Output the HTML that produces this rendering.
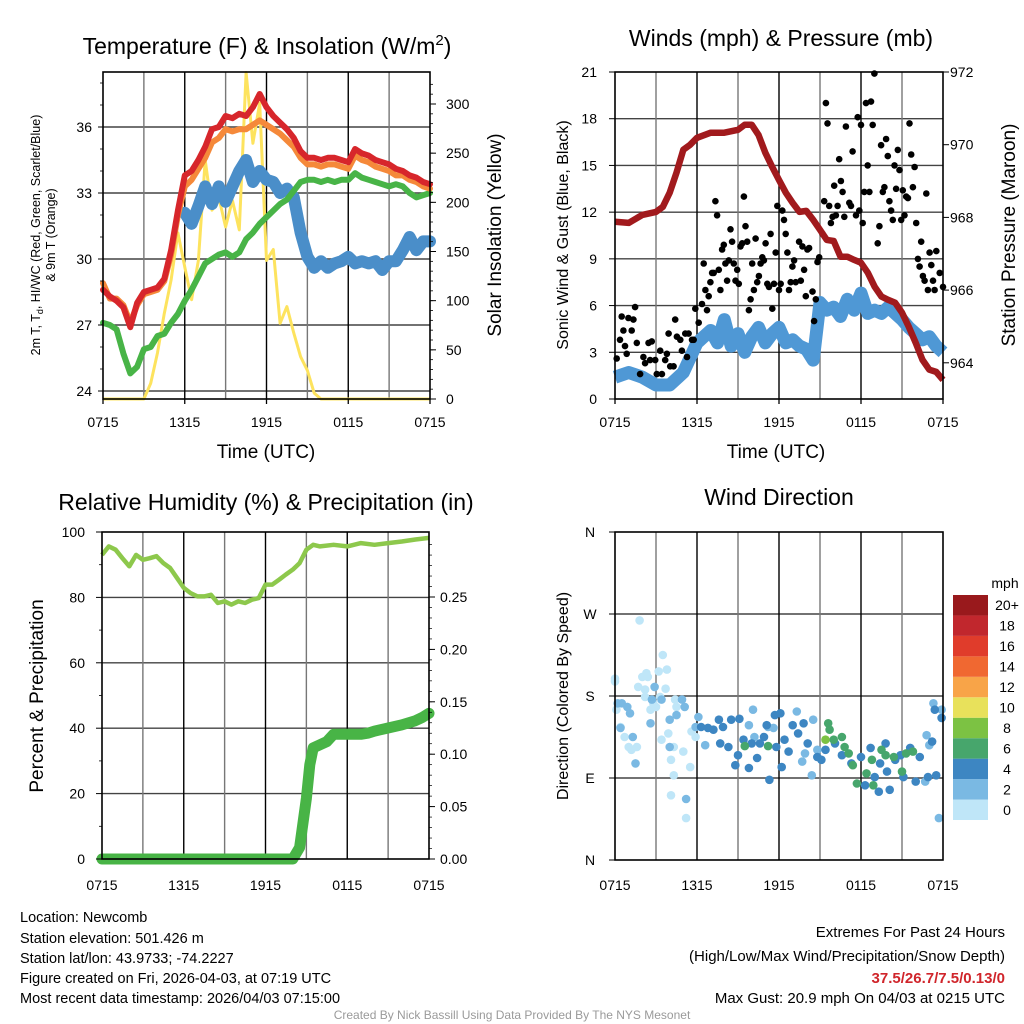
<!DOCTYPE html>
<html><head><meta charset="utf-8"><style>
html,body{margin:0;padding:0;background:#fff;}
svg{display:block;font-family:"Liberation Sans",sans-serif;}
</style></head><body>
<svg id="fig" width="1024" height="1024" viewBox="0 0 1024 1024" xmlns="http://www.w3.org/2000/svg">
<g id="static" fill="#000">
<text x="267" y="54" font-size="23" text-anchor="middle">Temperature (F) &amp; Insolation (W/m<tspan dy="-9" font-size="15">2</tspan><tspan dy="9">)</tspan></text>
<text x="781" y="46" font-size="23" text-anchor="middle">Winds (mph) &amp; Pressure (mb)</text>
<text x="266" y="510" font-size="23" text-anchor="middle">Relative Humidity (%) &amp; Precipitation (in)</text>
<text x="779" y="505" font-size="23" text-anchor="middle">Wind Direction</text>
<text x="266" y="458" font-size="19" text-anchor="middle">Time (UTC)</text>
<text x="776" y="458" font-size="19" text-anchor="middle">Time (UTC)</text>
<text transform="translate(40,235) rotate(-90)" font-size="12.5" text-anchor="middle">2m T, T<tspan dy="3" font-size="9">d</tspan><tspan dy="-3">, HI/WC (Red, Green, Scarlet/Blue)</tspan></text>
<text transform="translate(55,235) rotate(-90)" font-size="12.5" text-anchor="middle">&amp; 9m T (Orange)</text>
<text transform="translate(501,235) rotate(-90)" font-size="19" text-anchor="middle">Solar Insolation (Yellow)</text>
<text transform="translate(568,235) rotate(-90)" font-size="16" text-anchor="middle">Sonic Wind &amp; Gust (Blue, Black)</text>
<text transform="translate(1015,235) rotate(-90)" font-size="19" text-anchor="middle">Station Pressure (Maroon)</text>
<text transform="translate(43,696) rotate(-90)" font-size="19" text-anchor="middle">Percent &amp; Precipitation</text>
<text transform="translate(568,696) rotate(-90)" font-size="16" text-anchor="middle">Direction (Colored By Speed)</text>
<g font-size="14.5">
<text x="20" y="922">Location: Newcomb</text>
<text x="20" y="943">Station elevation: 501.426 m</text>
<text x="20" y="963">Station lat/lon: 43.9733; -74.2227</text>
<text x="20" y="983">Figure created on Fri, 2026-04-03, at 07:19 UTC</text>
<text x="20" y="1003">Most recent data timestamp: 2026/04/03 07:15:00</text>
</g>
<g font-size="15" text-anchor="end">
<text x="1005" y="937">Extremes For Past 24 Hours</text>
<text x="1005" y="961">(High/Low/Max Wind/Precipitation/Snow Depth)</text>
<text x="1005" y="983" fill="#d0252b" font-weight="bold">37.5/26.7/7.5/0.13/0</text>
<text x="1005" y="1003">Max Gust: 20.9 mph On 04/03 at 0215 UTC</text>
</g>
<text x="512" y="1019" font-size="12" fill="#9a9a9a" text-anchor="middle">Created By Nick Bassill Using Data Provided By The NYS Mesonet</text>
</g>
</svg>
<script>
// ---- Temperature panel data (half-hourly, hours after 0715 UTC) ----
const tHours = [0,0.5,1,1.5,2,2.5,3,3.5,4,4.5,5,5.5,6,6.5,7,7.5,8,8.5,9,9.5,10,10.5,11,11.5,12,12.5,13,13.5,14,14.5,15,15.5,16,16.5,17,17.5,18,18.5,19,19.5,20,20.5,21,21.5,22,22.5,23,23.5,24];
const tempRed = [28.6,28.3,28.1,27.8,26.9,28.0,28.5,28.6,28.7,29.1,30.4,32.2,33.8,34.0,34.5,35.1,35.9,36.0,36.5,36.4,36.6,36.5,36.9,37.5,36.9,36.5,36.2,35.9,35.5,34.9,34.6,34.6,34.5,34.6,34.6,34.5,34.4,35.0,34.8,34.7,34.5,34.4,34.3,34.1,34.0,33.8,33.7,33.5,33.4];
const tempOrange = [28.9,28.2,28.2,27.9,27.1,27.9,28.4,28.5,28.6,29.0,30.2,32.0,33.3,33.6,34.1,34.6,35.3,35.5,35.9,35.8,35.9,35.9,36.1,36.3,36.1,35.9,35.7,35.4,35.1,34.6,34.3,34.3,34.2,34.3,34.3,34.2,34.1,34.7,34.5,34.4,34.2,34.1,34.0,33.8,33.8,33.6,33.5,33.3,33.2];
const tempGreen = [27.1,27.0,26.8,25.7,24.8,25.1,25.9,26.0,26.5,26.6,27.1,27.5,28.1,28.6,29.2,29.8,30.0,30.2,30.3,30.1,30.3,30.9,31.2,31.6,31.9,32.2,32.5,32.7,33.1,33.5,33.6,33.6,33.5,33.6,33.5,33.6,33.6,33.9,33.7,33.6,33.5,33.4,33.3,33.4,33.3,33.0,32.8,32.9,33.0];
const tempBlue = [null,26.1,null,26.6,null,null,null,null,null,null,null,null,32.1,31.6,32.4,33.3,32.5,33.3,32.6,33.3,34.0,34.5,33.5,34.0,33.6,33.5,33.0,33.2,32.8,31.2,30.1,29.6,29.9,29.6,29.8,29.9,30.1,29.8,29.9,29.8,29.9,29.5,29.9,29.9,30.4,31.0,30.4,30.8,30.8];
const solar = [0,0,0,0,0,0,0,16,47,87,121,169,134,101,141,243,192,205,175,202,172,332,260,301,141,152,77,94,67,43,29,6,0,0,0,0,0,0,0,0,0,0,0,0,0,0,0,0,0];
const tempTicks = [24,27,30,33,36];
const solarTicks = [0,50,100,150,200,250,300];
const timeTickLabels = ["0715","1315","1915","0115","0715"];

// ---- Winds panel data ----
const windHours = [0,1,2,3,4,5,6,6.5,7,7.5,8,8.5,9,9.5,10,10.5,11,11.5,12,12.5,13,13.5,14,14.5,15,15.5,16,16.5,17,17.5,18,18.5,19,19.5,20,20.5,21,21.5,22,22.5,23,23.5,24];
const windSpeed = [1.4,1.7,1.4,0.9,0.9,1.7,3.6,4.0,4.4,3.6,5.1,3.4,4.2,3.0,4.0,4.6,3.6,4.2,4.6,3.6,3.8,3.4,3.2,2.5,6.2,5.7,5.9,5.3,6.4,5.7,6.8,5.5,5.7,5.5,5.9,5.5,5.1,4.6,4.2,3.8,4.0,3.4,3.0];
const presHours = [0,1,2,3,3.5,4,4.5,5,5.5,6,7,8,9,9.5,10,10.5,11,11.5,12,12.5,13,13.5,14,14.5,15,15.5,16,16.5,17,17.5,18,18.5,19,19.5,20,20.5,21,21.5,22,22.5,23,23.5,24];
const pressure = [967.88,967.85,968.07,968.15,968.29,968.68,969.23,969.86,970.0,970.19,970.33,970.33,970.41,970.55,970.55,970.27,969.78,969.39,969.03,968.68,968.4,968.15,968.18,967.93,967.66,967.38,967.35,966.92,966.92,966.83,966.75,966.48,966.09,965.82,965.73,965.65,965.38,964.99,964.55,964.08,963.81,963.75,963.53];
const gustStepHours = 24/196;
const gustValues = [null,2.6,null,3.8,5.3,4.4,3.4,2.9,5.2,null,4.4,5.1,5.9,3.6,null,1.6,null,2.7,2.3,null,3.6,2.5,3.7,null,2.5,1.6,null,3.1,1.6,null,2.5,2.9,4.2,2.1,null,2.1,5.1,4.0,null,3.8,3.1,null,4.2,2.7,4.2,null,3.8,3.8,5.8,null,4.9,null,6.1,8.7,7.0,5.7,6.6,7.5,8.1,8.1,12.7,11.8,8.3,7.0,9.6,9.9,8.7,7.6,8.9,10.9,10.1,8.7,7.6,8.3,7.4,9.8,10.0,13.0,11.1,10.1,5.7,6.4,8.7,7.0,10.3,7.5,7.9,8.7,9.1,8.9,10.0,7.4,7.2,10.6,5.8,7.4,9.4,12.4,7.0,7.4,12.1,11.5,10.6,9.4,7.0,7.5,8.5,8.9,7.5,null,10.1,7.6,9.8,8.3,6.6,9.6,9.7,null,6.9,5.0,6.4,8.8,9.1,null,10.6,12.7,19.0,17.7,12.4,11.3,11.7,13.7,11.8,12.4,15.4,14.0,13.3,11.7,17.5,null,12.6,12.4,15.9,null,11.8,18.1,12.1,17.6,11.3,13.3,19.0,15.0,13.3,19.1,17.6,20.9,null,10.0,11.1,16.3,13.3,13.6,16.7,15.6,12.7,12.1,11.5,15.0,13.5,16.0,14.7,11.5,13.4,11.8,13.0,12.9,17.7,15.7,13.6,14.9,11.3,9.0,8.5,10.1,7.9,7.6,13.2,7.0,9.4,8.6,7.6,7.0,9.5,null,8.1,null,7.2];
const windTicks = [0,3,6,9,12,15,18,21];
const presTicks = [964,966,968,970,972];

// ---- Humidity / precip ----
const rhHours = [0,0.5,1,1.5,2,2.5,3,3.5,4,4.5,5,5.5,6,6.5,7,7.5,8,8.5,9,9.5,10,10.5,11,11.5,12,12.5,13,13.5,14,14.5,15,15.5,16,17,18,19,20,21,22,23,24];
const rhValues = [93,95.6,94.6,92,89.5,93,91.5,92,92.6,90.5,89,86,82.9,81.3,80.3,80.3,80.8,78.3,78.8,77.8,78.8,78.3,79.3,79.8,83.9,83.9,85.4,87,88.5,90.5,94.6,96.1,95.6,96.1,95.6,96.6,96.1,96.6,97.1,97.7,98.2];
const precipHours = [0,14,14.5,15,15.25,15.5,16,16.5,17,18,19,19.5,20,21,22,23,23.5,24];
const precipValues = [0,0,0.011,0.058,0.090,0.106,0.109,0.112,0.119,0.119,0.119,0.120,0.122,0.125,0.128,0.132,0.135,0.139];
const rhTicks = [0,20,40,60,80,100];
const precipTicks = [0,0.05,0.10,0.15,0.20,0.25];

// ---- Wind direction ----
const dirHours = [0,0,1.8,0.1,0.4,0.7,1.0,1.2,1.6,2.0,1.7,2.2,2.3,2.4,2.2,2.6,2.8,3.0,3.2,3.5,3.8,3.3,3.7,3.4,3.9,4.4,4.5,4.3,4.1,4.3,4.1,5.0,5.5,5.2,5.6,5.9,
 0.2,0.5,0.9,1.1,1.3,1.5,0.4,2.6,2.7,2.9,3.4,4.0,4.0,4.5,4.9,5.1,5.2,5.9,6.1,6.6,9.8,10.1,10.2,11.2,11.6,13.3,13.9,14.4,14.5,14.8,13.7,22.7,22.8,23.0,23.3,23.7,23.9,
 6.3,6.8,7.2,7.6,7.9,7.7,8.3,8.5,8.8,9.0,9.1,9.4,9.8,10.0,10.4,10.6,10.9,11.1,11.3,11.7,11.8,12.1,12.2,12.4,12.7,13.0,13.4,13.8,14.1,14.8,15.1,15.4,16.1,16.6,17.3,18.0,18.3,18.7,19.0,19.3,19.4,19.8,19.9,20.1,20.5,20.9,21.1,21.6,22.0,22.3,22.9,23.5,23.4,23.9,23.2,
 9.5,11.2,15.6,15.7,16.0,16.6,16.8,17.1,17.4,17.7,18.4,18.8,18.9,19.5,19.8,20.4,21.0,21.3,21.8,15.4];
const dirDegrees = [199,196,263,165,146,135,124,121,124,201,190,187,205,201,179,165,172,168,207,225,209,179,188,132,139,176,168,124,110,93,71,119,102,46,141,135,
 172,172,168,161,135,106,145,150,176,190,176,154,124,159,176,168,67,146,157,126,148,165,135,146,145,163,117,93,154,121,108,86,137,126,172,46,165,
 146,145,143,154,146,128,124,154,104,115,155,132,101,128,112,128,135,148,88,159,124,161,102,132,119,148,139,150,128,113,110,121,128,115,106,113,82,123,91,75,106,128,97,77,110,115,91,123,86,113,91,93,165,156,130,
 125,125,150,143,132,135,124,117,104,84,95,110,82,121,115,113,97,117,119,132];
const dirSpeeds = [1,1,1,1,1,1,1,1,1,1,1,1,1,1,1,1,1,1,1,1,1,1,1,1,1,1,1,1,1,1,1,1,1,1,1,1,
 3,3,3,3,3,3,3,3,3,3,3,3,3,3,3,3,3,3,3,3,3,3,3,3,3,3,3,3,3,3,3,3,3,3,3,3,3,
 5,5,5,5,5,5,5,5,5,5,5,5,5,5,5,5,5,5,5,5,5,5,5,5,5,5,5,5,5,5,5,5,5,5,5,5,5,5,5,5,5,5,5,5,5,5,5,5,5,5,5,5,5,5,5,
 7,7,7,7,7,7,7,7,7,7,7,7,7,7,7,7,7,7,7,9];
const dirTicks = [0,90,180,270,360];
const dirTickLabels = ["N","E","S","W","N"];
const speedBins = [0,2,4,6,8,10,12,14,16,18,20];
const speedBinLabels = ["0","2","4","6","8","10","12","14","16","18","20+"];
const speedColors = ["#bfe6f8","#7ab9e3","#3d86c2","#47a66c","#7cc243","#e8e15b","#f8a448","#f06831","#e03c2b","#c1272d","#99191c"];

// ---- drawing ----
const NS = "http://www.w3.org/2000/svg";
const svg = document.getElementById("fig");
function mk(tag, attrs, parent){ const e=document.createElementNS(NS,tag); for(const k in attrs) e.setAttribute(k,attrs[k]); (parent||svg).appendChild(e); return e; }
function pathFrom(xs, ys, fx, fy){ let d="", pen=false; for(let i=0;i<xs.length;i++){ if(ys[i]===null){pen=false;continue;} d+=(pen?"L":"M")+fx(xs[i]).toFixed(1)+","+fy(ys[i]).toFixed(1); pen=true;} return d; }

function frame(x0,y0,x1,y1,hgrid,vgrid,name){
  const g=mk("g",{});
  
  
  hgrid.forEach(y=>{ mk("line",{x1:x0,x2:x1,y1:y,y2:y,stroke:"#222","stroke-width":1.4,"stroke-opacity":0.85},g); });
  vgrid.forEach((x,i)=>{ mk("line",{x1:x,x2:x,y1:y0,y2:y1,stroke:i%2?"#000":"#777","stroke-width":1.4},g); });
  return g;
}
function border(x0,y0,x1,y1,name){
  const r=mk("rect",{x:x0,y:y0,width:x1-x0,height:y1-y0,fill:"none",stroke:"#000","stroke-width":1.6});
  
  
}
function tickText(x,y,txt,anchor,size,name){
  const t=mk("text",{x:x,y:y,"font-size":size||14,"text-anchor":anchor,"dominant-baseline":"central"});
  t.textContent=txt;
  
  
  return t;
}
function timeAxis(fx,yb,name){
  [0,6,12,18,24].forEach((h,i)=>{
    tickText(fx(h),yb+23,timeTickLabels[i],"middle",14,name+'-x-tick-label');
    mk("line",{x1:fx(h),x2:fx(h),y1:yb,y2:yb+5,stroke:"#000","stroke-width":1.3});
  });
}

// Panel 1
(function(){
  const x=h=>103+h*327/24, yL=v=>391-(v-24)*22, yR=s=>399-s*295/300;
  const vg=[]; for(let h=3;h<24;h+=3) vg.push(x(h));
  frame(103,72,430,399,tempTicks.map(yL),vg,'temperature');
  const lines=[[tempBlue,"#4a8ec9",12,'scarlet-blue-hiwc-line'],[tempGreen,"#48b447",6,'dewpoint-line'],[tempOrange,"#f5893a",6,'temp-9m-line'],[tempRed,"#d7262b",6,'temp-2m-line']];
  const sp=mk("path",{d:pathFrom(tHours,solar,x,yR),fill:"none",stroke:"#fde35e","stroke-width":3,"stroke-linejoin":"round"});
  
  
  lines.forEach(l=>{
    const p=mk("path",{d:pathFrom(tHours,l[0],x,yL),fill:"none",stroke:l[1],"stroke-width":l[2],"stroke-linejoin":"round","stroke-linecap":"round"});
    
    
  });
  border(103,72,430,399,'temperature');
  tempTicks.forEach(v=>{ tickText(92,yL(v),String(v),"end",14,'temperature-y-tick-label'); mk("line",{x1:98,x2:103,y1:yL(v),y2:yL(v),stroke:"#000"}); });
  for(let v=25;v<=38;v++) mk("line",{x1:100,x2:103,y1:yL(v),y2:yL(v),stroke:"#000","stroke-width":0.8});
  solarTicks.forEach(v=>{ tickText(446,yR(v),String(v),"start",14,'solar-y-tick-label'); mk("line",{x1:430,x2:436,y1:yR(v),y2:yR(v),stroke:"#000"}); });
  for(let v=10;v<330;v+=10) mk("line",{x1:430,x2:433,y1:yR(v),y2:yR(v),stroke:"#000","stroke-width":0.8});
  timeAxis(x,399,'temperature');
})();

// Panel 2
(function(){
  const x=h=>615+h*328/24, yL=v=>399-v*327/21, yR=p=>72+(972-p)*36.35;
  const vg=[]; for(let h=3;h<24;h+=3) vg.push(x(h));
  frame(615,72,943,399,windTicks.slice(1,7).map(yL),vg,'winds');
  const wl=mk("path",{d:pathFrom(windHours,windSpeed,x,yL),fill:"none",stroke:"#4f98d5","stroke-width":13,"stroke-linejoin":"round"});
  
  
  const gg=mk("g",{fill:"#000"});
  
  
  gustValues.forEach((v,i)=>{ if(v===null) return;
    const c=mk("circle",{cx:x(i*gustStepHours).toFixed(1),cy:yL(v).toFixed(1),r:3.3},gg);
    
    
  });
  const pl=mk("path",{d:pathFrom(presHours,pressure,x,yR),fill:"none",stroke:"#a11a1d","stroke-width":6.5,"stroke-linejoin":"round"});
  
  
  border(615,72,943,399,'winds');
  windTicks.forEach(v=>{ tickText(597,yL(v),String(v),"end",14,'wind-y-tick-label'); mk("line",{x1:609,x2:615,y1:yL(v),y2:yL(v),stroke:"#000"}); });
  presTicks.forEach(v=>{ tickText(950,yR(v),String(v),"start",14,'pressure-y-tick-label'); mk("line",{x1:943,x2:949,y1:yR(v),y2:yR(v),stroke:"#000"}); });
  timeAxis(x,399,'winds');
})();

// Panel 3
(function(){
  const x=h=>102+h*327/24, yL=v=>859-v*3.27, yR=p=>859-p*1048;
  const vg=[]; for(let h=3;h<24;h+=3) vg.push(x(h));
  frame(102,532,429,859,rhTicks.slice(1,5).map(yL),vg,'humidity');
  const pr=mk("path",{d:pathFrom(precipHours,precipValues,x,yR),fill:"none",stroke:"#48b446","stroke-width":11,"stroke-linejoin":"round","stroke-linecap":"round"});
  
  
  const rl=mk("path",{d:pathFrom(rhHours,rhValues,x,yL),fill:"none",stroke:"#8dc84c","stroke-width":4.5,"stroke-linejoin":"round"});
  
  
  border(102,532,429,859,'humidity');
  rhTicks.forEach(v=>{ tickText(85,yL(v),String(v),"end",14,'humidity-y-tick-label'); mk("line",{x1:96,x2:102,y1:yL(v),y2:yL(v),stroke:"#000"}); });
  for(let v=10;v<100;v+=20) mk("line",{x1:99,x2:102,y1:yL(v),y2:yL(v),stroke:"#000","stroke-width":0.8});
  precipTicks.forEach(v=>{ tickText(440,yR(v),v.toFixed(2),"start",14,'precip-y-tick-label'); mk("line",{x1:429,x2:435,y1:yR(v),y2:yR(v),stroke:"#000"}); });
  for(let v=0.01;v<0.31;v+=0.01) mk("line",{x1:429,x2:432,y1:yR(v),y2:yR(v),stroke:"#000","stroke-width":0.7});
  [0,6,12,18,24].forEach((h,i)=>{ tickText(x(h),885,timeTickLabels[i],"middle",14,'humidity-x-tick-label'); });
})();

// Panel 4
(function(){
  const x=h=>615+h*328/24, y=d=>860-d*328/360;
  const vg=[]; for(let h=3;h<24;h+=3) vg.push(x(h));
  frame(615,532,943,860,[90,180,270].map(y),vg,'wind-direction');
  const colorFor=s=>{ let k=0; speedBins.forEach((b,i)=>{ if(s>=b) k=i; }); return speedColors[k]; };
  const g=mk("g",{});
  
  
  dirHours.forEach((h,i)=>{
    const c=mk("circle",{cx:x(h).toFixed(1),cy:y(dirDegrees[i]).toFixed(1),r:4.3,fill:colorFor(dirSpeeds[i])},g);
    
    
  });
  border(615,532,943,860,'wind-direction');
  dirTicks.forEach((d,i)=>{ tickText(590,y(d),dirTickLabels[i],"middle",14,'direction-y-tick-label'); mk("line",{x1:609,x2:615,y1:y(d),y2:y(d),stroke:"#000"}); });
  [0,6,12,18,24].forEach((h,i)=>{ tickText(x(h),885,timeTickLabels[i],"middle",14,'direction-x-tick-label'); });
  const cb=mk("g",{});
  
  
  const bh=225/speedColors.length;
  speedColors.forEach((c,i)=>{
    const yy=820-(i+1)*bh;
    mk("rect",{x:953,y:yy,width:35,height:bh,fill:c},cb);
    tickText(1007,yy+bh/2,speedBinLabels[i],"middle",14,'colorbar-label');
  });
  tickText(1005,583,"mph","middle",14,'colorbar-title');
})();
</script>
</body></html>
